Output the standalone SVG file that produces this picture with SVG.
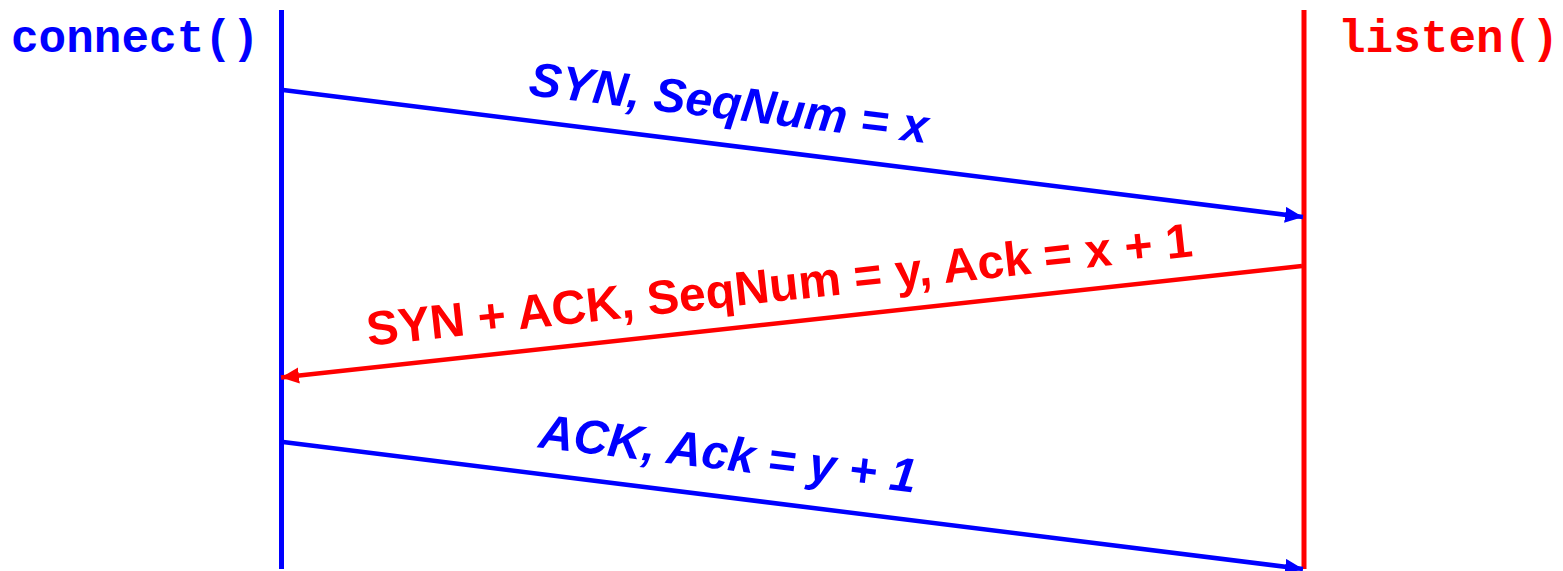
<svg xmlns="http://www.w3.org/2000/svg" width="1563" height="571" viewBox="0 0 1563 571">
  <style>
    .mono { font-family: "Liberation Mono", "Courier New", monospace; font-weight: bold; font-size: 46px; }
    .lbl { font-family: "Liberation Sans", Arial, sans-serif; font-weight: bold; font-size: 48px; text-anchor: middle; }
    .it { font-style: italic; }
    .blue { fill: #0000FF; }
    .red { fill: #FF0000; }
    .lb { stroke: #0000FF; stroke-width: 4.5; fill: none; }
    .lr { stroke: #FF0000; stroke-width: 4.5; fill: none; }
  </style>
  <defs>
    <marker id="ahb" markerUnits="userSpaceOnUse" markerWidth="20" markerHeight="18" refX="18" refY="8" orient="auto">
      <path d="M0,0 L18,8 L0,16 z" fill="#0000FF"/>
    </marker>
    <marker id="ahr" markerUnits="userSpaceOnUse" markerWidth="20" markerHeight="18" refX="18" refY="8" orient="auto">
      <path d="M0,0 L18,8 L0,16 z" fill="#FF0000"/>
    </marker>
  </defs>
  <rect width="1563" height="571" fill="#FFFFFF"/>

  <g id="client">
    <line class="lb" x1="281.5" y1="10" x2="281.5" y2="569" style="stroke-width:5"/>
    <text class="mono blue" x="11" y="52">connect()</text>
  </g>

  <g id="server">
    <line class="lr" x1="1304" y1="10" x2="1304" y2="569" style="stroke-width:5"/>
    <text class="mono red" x="1338" y="52">listen()</text>
  </g>

  <g id="connectors">
    <line class="lb" x1="283" y1="90" x2="1303" y2="217" marker-end="url(#ahb)"/>
    <line class="lr" x1="1302" y1="266" x2="281" y2="377.5" marker-end="url(#ahr)"/>
    <line class="lb" x1="283" y1="442" x2="1303" y2="569" marker-end="url(#ahb)"/>
  </g>

  <g id="labels">
    <text class="lbl it blue" transform="translate(727,119) rotate(6.9)">SYN, SeqNum = x</text>
    <text class="lbl red" transform="translate(781,301) rotate(-6.2)">SYN + ACK, SeqNum = y, Ack = x + 1</text>
    <text class="lbl it blue" transform="translate(726,470) rotate(6.9)">ACK, Ack = y + 1</text>
  </g>
</svg>
